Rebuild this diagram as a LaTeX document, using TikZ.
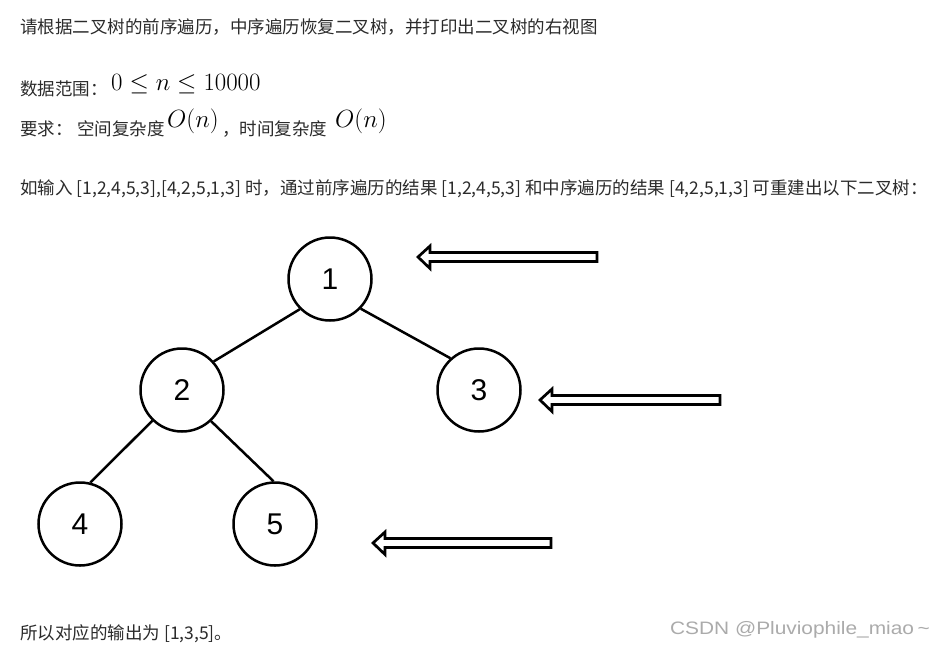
\documentclass[tikz,border=0pt]{standalone}
\usepackage{fontspec}
\newfontfamily\cjk{Noto Sans CJK SC}
\newfontfamily\arial{Liberation Sans}
\definecolor{txt}{HTML}{2B2B2B}
\definecolor{wm}{HTML}{ABABAB}
\begin{document}
\begin{tikzpicture}[x=1pt,y=-1pt,
  lbl/.style={anchor=base west,inner sep=0pt,text=txt,font=\cjk\fontsize{17.5}{21}\selectfont},
  mth/.style={anchor=base west,inner sep=0pt,text=black,font=\fontsize{28}{32}\selectfont},
  circ/.style={circle,draw=black,line width=2.5pt,minimum size=83pt,inner sep=0pt,font=\arial\fontsize{30}{34}\selectfont},
  edge/.style={line width=2.5pt,black},
  hollow/.style={draw=black,fill=white,line width=2.7pt,line join=miter}]
\useasboundingbox (0,0) rectangle (944,646);
\fill[white] (0,0) rectangle (944,646);
% text
\node[lbl] (t1) at (20,33) {请根据二叉树的前序遍历，中序遍历恢复二叉树，并打印出二叉树的右视图};
\node[lbl] (t2) at (20,95) {数据范围：};
\node[mth] (m1) at (111,90) {$0\le n\le 10000$};
\node[lbl] (t3) at (20,135) {要求：};
\node[lbl] (t3b) at (77,135) {空间复杂度};
\node[mth] (m2) at (167,127) {$O(n)$};
\node[lbl] (t3c) at (222,135) {，时间复杂度};
\node[mth] (m3) at (335,127) {$O(n)$};
\node[lbl] (t4) at (20,194) {如输入 [1,2,4,5,3],[4,2,5,1,3] 时，通过前序遍历的结果 [1,2,4,5,3] 和中序遍历的结果 [4,2,5,1,3] 可重建出以下二叉树：};
\node[lbl] (t5) at (20,639) {所以对应的输出为 [1,3,5]。};
\node[anchor=base east,inner sep=0pt,text=wm,font=\arial\fontsize{18}{21}\selectfont] (wmk) at (930,634) {\scalebox{1.16}[1]{CSDN @Pluviophile\_miao\,\textasciitilde}};
% tree
\node[circ] (n1) at (330,279) {1};
\node[circ] (n2) at (182,390) {2};
\node[circ] (n3) at (479,390) {3};
\node[circ] (n4) at (80,524) {4};
\node[circ] (n5) at (275,524) {5};
\draw[edge] (n1.225) -- (n2.42);
\draw[edge] (n1.316) -- (n3.132);
\draw[edge] (n2.226) -- (n4.76);
\draw[edge] (n2.313) -- (n5.92);
% hollow arrows
\draw[hollow] (418,257) -- (430,246) -- (430,252.5) -- (597,252.5) -- (597,261.5) -- (430,261.5) -- (430,268.5) -- cycle;
\draw[hollow] (540,400) -- (552,389) -- (552,395.5) -- (720,395.5) -- (720,404.5) -- (552,404.5) -- (552,411.5) -- cycle;
\draw[hollow] (373,543) -- (385,532) -- (385,538.5) -- (551,538.5) -- (551,547.5) -- (385,547.5) -- (385,554.5) -- cycle;
\end{tikzpicture}
\end{document}
